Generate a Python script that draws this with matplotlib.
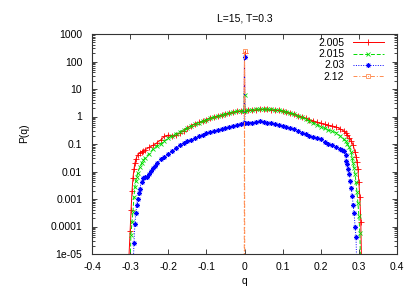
import matplotlib
matplotlib.use("Agg")
import matplotlib.pyplot as plt
from matplotlib.ticker import FixedLocator, FixedFormatter, NullFormatter

plt.rcParams['font.family'] = ['Liberation Sans', 'DejaVu Sans']
plt.rcParams['font.size'] = 7.5

title = "L=15, T=0.3"
series_labels = ["2.005", "2.015", "2.03", "2.12"]

# ---- data: 2.005 (red)
q_2005 = [-0.305, -0.30, -0.2975, -0.295, -0.2925, -0.29, -0.2875, -0.285, -0.28, -0.275,
          -0.27, -0.265, -0.26, -0.25, -0.24, -0.23, -0.22, -0.21, -0.20, -0.19,
          -0.18, -0.17, -0.16, -0.15, -0.14, -0.13, -0.12, -0.11, -0.10, -0.09,
          -0.08, -0.07, -0.06, -0.05, -0.04, -0.03, -0.02, -0.01, -0.001, 0.0,
          0.001, 0.01, 0.02, 0.03, 0.04, 0.05, 0.06, 0.07, 0.08, 0.09,
          0.10, 0.11, 0.12, 0.13, 0.14, 0.15, 0.16, 0.17, 0.18, 0.19,
          0.20, 0.21, 0.22, 0.23, 0.24, 0.25, 0.26, 0.265, 0.27, 0.275,
          0.28, 0.285, 0.29, 0.2925, 0.295, 0.2975, 0.30, 0.3025, 0.305, 0.3075]
P_2005 = [2e-6, 7e-5, 4e-4, 2e-3, 6e-3, 0.012, 0.02, 0.028, 0.04, 0.048,
          0.052, 0.058, 0.063, 0.075, 0.09, 0.11, 0.14, 0.19, 0.21, 0.20,
          0.21, 0.25, 0.30, 0.37, 0.47, 0.54, 0.61, 0.69, 0.77, 0.86,
          0.95, 1.04, 1.14, 1.24, 1.34, 1.43, 1.52, 1.58, 1.62, 200.0,
          1.62, 1.67, 1.72, 1.77, 1.80, 1.82, 1.80, 1.78, 1.74, 1.68,
          1.58, 1.46, 1.34, 1.20, 1.07, 0.96, 0.85, 0.77, 0.70, 0.62,
          0.57, 0.52, 0.48, 0.45, 0.42, 0.36, 0.30, 0.26, 0.22, 0.17,
          0.13, 0.09, 0.05, 0.035, 0.022, 0.012, 4e-3, 1.2e-3, 1.5e-4, 2e-6]

# ---- data: 2.015 (green)
q_2015 = [-0.301, -0.298, -0.295, -0.2925, -0.29, -0.2875, -0.285, -0.2825, -0.28, -0.275,
          -0.27, -0.265, -0.26, -0.25, -0.24, -0.23, -0.22, -0.21, -0.20, -0.19,
          -0.18, -0.17, -0.16, -0.15, -0.14, -0.13, -0.12, -0.11, -0.10, -0.09,
          -0.08, -0.07, -0.06, -0.05, -0.04, -0.03, -0.02, -0.01, -0.001, 0.0,
          0.001, 0.01, 0.02, 0.03, 0.04, 0.05, 0.06, 0.07, 0.08, 0.09,
          0.10, 0.11, 0.12, 0.13, 0.14, 0.15, 0.16, 0.17, 0.18, 0.19,
          0.20, 0.21, 0.22, 0.23, 0.24, 0.25, 0.26, 0.265, 0.27, 0.275,
          0.28, 0.2825, 0.285, 0.2875, 0.29, 0.2925, 0.295, 0.2975, 0.30, 0.3025, 0.305]
P_2015 = [1e-6, 5e-5, 1.5e-4, 3.5e-4, 1.2e-3, 2.8e-3, 4.5e-3, 6.5e-3, 9e-3, 0.014,
          0.02, 0.026, 0.032, 0.045, 0.065, 0.085, 0.10, 0.13, 0.16, 0.20,
          0.24, 0.28, 0.33, 0.38, 0.45, 0.52, 0.60, 0.68, 0.76, 0.85,
          0.95, 1.05, 1.15, 1.25, 1.35, 1.45, 1.55, 1.60, 1.65, 6.0,
          1.65, 1.70, 1.75, 1.80, 1.85, 1.85, 1.85, 1.82, 1.78, 1.72,
          1.62, 1.50, 1.38, 1.20, 1.05, 0.92, 0.80, 0.70, 0.60, 0.50,
          0.43, 0.37, 0.32, 0.29, 0.26, 0.20, 0.15, 0.125, 0.10, 0.075,
          0.05, 0.03, 0.02, 0.013, 8e-3, 4e-3, 1.8e-3, 7e-4, 2.5e-4, 6e-5, 2e-6]

# ---- data: 2.03 (blue)
q_203 = [-0.2925, -0.29, -0.2875, -0.285, -0.2825, -0.28, -0.2775, -0.275, -0.27, -0.265,
         -0.26, -0.255, -0.25, -0.245, -0.24, -0.235, -0.23, -0.22, -0.21, -0.20,
         -0.19, -0.18, -0.17, -0.16, -0.15, -0.14, -0.13, -0.12, -0.11, -0.10,
         -0.09, -0.08, -0.07, -0.06, -0.05, -0.04, -0.03, -0.02, -0.01, -0.001,
         0.0, 0.001, 0.01, 0.02, 0.03, 0.04, 0.05, 0.06, 0.07, 0.08,
         0.09, 0.10, 0.11, 0.12, 0.13, 0.14, 0.15, 0.16, 0.17, 0.18,
         0.19, 0.20, 0.21, 0.22, 0.23, 0.24, 0.25, 0.255, 0.26, 0.265,
         0.2675, 0.27, 0.2725, 0.275, 0.2775, 0.28, 0.2825, 0.285, 0.2875, 0.29,
         0.2925, 0.295]
P_203 = [2e-6, 2.5e-5, 1.2e-4, 3e-4, 6e-4, 1e-3, 1.6e-3, 2.4e-3, 4e-3, 5.8e-3,
         6.3e-3, 6.5e-3, 8e-3, 0.0105, 0.013, 0.016, 0.02, 0.028, 0.035, 0.045,
         0.055, 0.07, 0.09, 0.11, 0.125, 0.14, 0.16, 0.19, 0.22, 0.245,
         0.27, 0.295, 0.32, 0.345, 0.37, 0.42, 0.46, 0.50, 0.55, 0.58,
         150.0, 0.58, 0.60, 0.60, 0.65, 0.68, 0.62, 0.60, 0.57, 0.53,
         0.49, 0.45, 0.42, 0.38, 0.34, 0.30, 0.26, 0.23, 0.20, 0.18,
         0.16, 0.15, 0.12, 0.10, 0.095, 0.075, 0.065, 0.06, 0.058, 0.04,
         0.025, 0.018, 0.012, 8e-3, 4.5e-3, 2.5e-3, 1.3e-3, 6e-4, 3e-4, 1e-4,
         4e-5, 2e-6]

# ---- data: 2.12 (orange)
q_212 = [-0.001, 0.0, 0.001]
P_212 = [1e-9, 240.0, 1e-9]

x_ticks = [-0.4, -0.3, -0.2, -0.1, 0.0, 0.1, 0.2, 0.3, 0.4]
x_ticklabels = ["-0.4", "-0.3", "-0.2", "-0.1", "0", "0.1", "0.2", "0.3", "0.4"]
y_ticks = [1e-5, 1e-4, 1e-3, 1e-2, 1e-1, 1, 10, 100, 1000]
y_ticklabels = ["1e-05", "0.0001", "0.001", "0.01", "0.1", "1", "10", "100", "1000"]

W, H = 415, 291
fig = plt.figure(figsize=(W / 100, H / 100), dpi=100)
L, R, T, B = 92, 397, 34, 254
ax = fig.add_axes([L / W, 1 - B / H, (R - L) / W, (B - T) / H])

lw = 0.7
ms = 4
ax.plot(q_2005, P_2005, color='#ff0000', ls='-', lw=lw, marker='+', ms=ms, mew=0.6,
        label=series_labels[0])
ax.plot(q_2015, P_2015, color='#00dd00', ls=(0, (4, 2)), lw=lw, marker='x', ms=3.5, mew=0.6,
        label=series_labels[1])
ax.plot(q_203, P_203, color='#0000ff', ls=(0, (1, 1.5)), lw=lw, marker=(8, 2, 0), ms=3.5, mew=0.6,
        label=series_labels[2])
ax.plot(q_212, P_212, color='#ff8c50', ls=(0, (4, 2, 1, 2)), lw=lw, marker='s', ms=3.5, mew=0.6,
        mfc='none', label=series_labels[3])

ax.set_yscale('log')
ax.set_xlim(-0.4, 0.4)
ax.set_ylim(1e-5, 1000)

ax.xaxis.set_major_locator(FixedLocator(x_ticks))
ax.xaxis.set_major_formatter(FixedFormatter(x_ticklabels))
ax.yaxis.set_major_locator(FixedLocator(y_ticks))
ax.yaxis.set_major_formatter(FixedFormatter(y_ticklabels))
minor = [m * 10.0 ** e for e in range(-5, 3) for m in range(2, 10)]
ax.yaxis.set_minor_locator(FixedLocator(minor))
ax.yaxis.set_minor_formatter(NullFormatter())
ax.minorticks_on()
ax.xaxis.set_minor_locator(FixedLocator([]))

ax.tick_params(which='both', direction='in', top=True, right=True, color='#222222', width=0.6)
ax.tick_params(which='major', length=3.5)
ax.tick_params(which='minor', length=2)
ax.tick_params(axis='x', pad=5.5)
ax.tick_params(axis='y', pad=7)
for s in ax.spines.values():
    s.set_linewidth(0.8)
    s.set_color('#333333')

fig.text((L + R) / 2 / W, 1 - 21.5 / H, title, ha='center', va='baseline')
fig.text((L + R) / 2 / W, 1 - 284.5 / H, "q", ha='center', va='baseline')
fig.text(24 / W, 1 - 133 / H, "P(q)", ha='center', va='center', rotation=90)

leg = ax.legend(loc='upper right', bbox_to_anchor=((384 - L) / (R - L), 1 - (38 - T) / (B - T)),
                borderaxespad=0, borderpad=0, frameon=False, markerfirst=False,
                numpoints=1, handlelength=3.0, handletextpad=0.8, labelspacing=0.12)
for t in leg.get_texts():
    t.set_ha('right')

fig.savefig("out.png", dpi=100)
